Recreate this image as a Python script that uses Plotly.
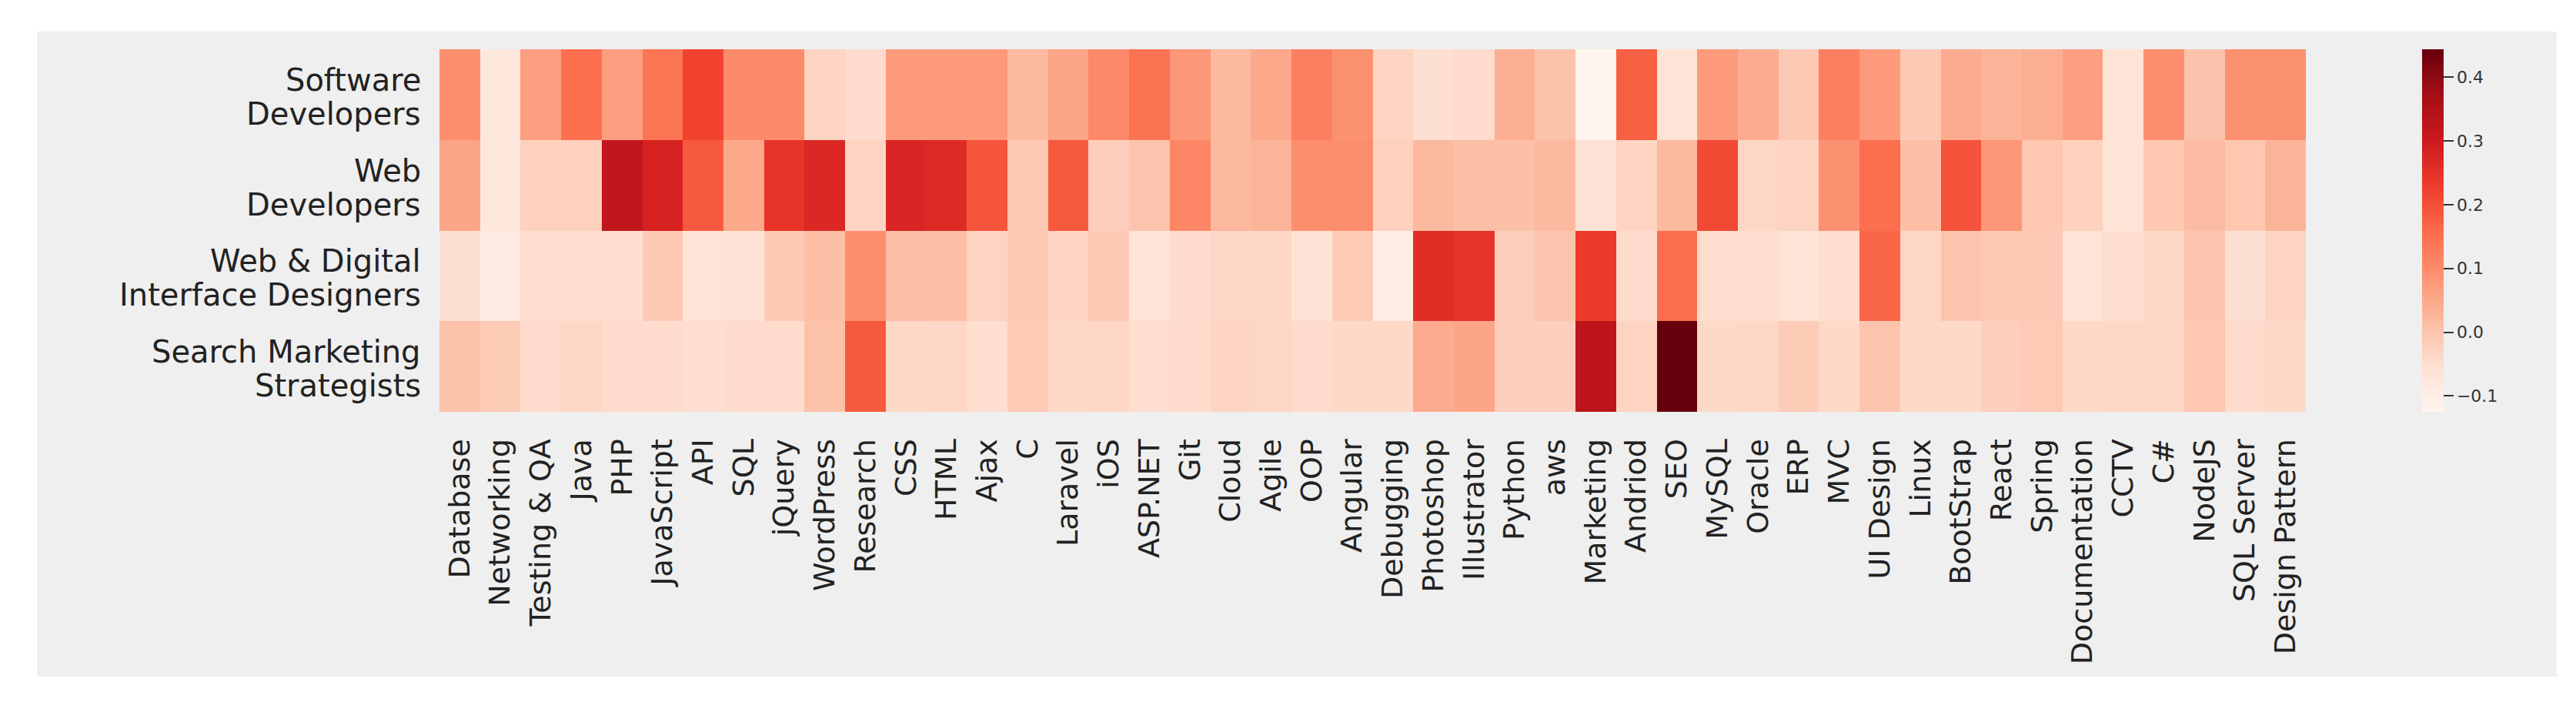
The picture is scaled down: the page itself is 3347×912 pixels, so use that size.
import plotly.graph_objects as go

skills = ["Database", "Networking", "Testing & QA", "Java", "PHP", "JavaScript", "API", "SQL",
          "jQuery", "WordPress", "Research", "CSS", "HTML", "Ajax", "C", "Laravel", "iOS",
          "ASP.NET", "Git", "Cloud", "Agile", "OOP", "Angular", "Debugging", "Photoshop",
          "Illustrator", "Python", "aws", "Marketing", "Andriod", "SEO", "MySQL", "Oracle",
          "ERP", "MVC", "UI Design", "Linux", "BootStrap", "React", "Spring", "Documentation",
          "CCTV", "C#", "NodeJS", "SQL Server", "Design Pattern"]

roles = ["Software Developers", "Web Developers",
         "Web & Digital Interface Designers", "Search Marketing Strategists"]
role_label_lines = [["Software", "Developers"], ["Web", "Developers"],
                    ["Web & Digital", "Interface Designers"], ["Search Marketing", "Strategists"]]

software_developers = [0.095, -0.08, 0.065, 0.15, 0.065, 0.14, 0.22, 0.10, 0.10, -0.03, -0.045, 0.075,
                       0.075, 0.075, 0.02, 0.055, 0.105, 0.145, 0.08, 0.02, 0.05, 0.12, 0.09, -0.03,
                       -0.055, -0.045, 0.04, 0.005, -0.12, 0.175, -0.065, 0.075, 0.045, -0.01, 0.12,
                       0.075, -0.01, 0.045, 0.03, 0.04, 0.065, -0.065, 0.095, 0.003, 0.09, 0.09]
web_developers = [0.055, -0.08, -0.025, -0.025, 0.32, 0.28, 0.185, 0.05, 0.245, 0.27, -0.03, 0.275,
                  0.265, 0.19, -0.01, 0.185, -0.02, 0.0, 0.11, 0.02, 0.03, 0.095, 0.095, -0.025,
                  0.02, 0.01, 0.008, 0.02, -0.06, -0.03, 0.02, 0.21, -0.035, -0.03, 0.09,
                  0.15, 0.01, 0.195, 0.08, -0.005, -0.025, -0.065, -0.005, 0.015, -0.005, 0.03]
interface_designers = [-0.055, -0.09, -0.05, -0.05, -0.05, -0.01, -0.065, -0.06, -0.01, 0.01, 0.095, 0.01,
                       0.01, -0.03, -0.01, -0.03, -0.01, -0.065, -0.045, -0.035, -0.035, -0.06, -0.012, -0.095,
                       0.26, 0.245, -0.02, 0.0, 0.235, -0.045, 0.15, -0.05, -0.05, -0.065, -0.05,
                       0.165, -0.035, 0.0, -0.01, -0.01, -0.065, -0.05, -0.04, 0.0, -0.055, -0.03]
search_marketing = [0.005, -0.015, -0.045, -0.035, -0.045, -0.045, -0.05, -0.045, -0.045, 0.005, 0.185, -0.04,
                    -0.035, -0.05, -0.012, -0.04, -0.035, -0.05, -0.045, -0.03, -0.035, -0.045, -0.04, -0.04,
                    0.045, 0.055, -0.02, -0.02, 0.33, -0.03, 0.444, -0.04, -0.035, -0.015, -0.04,
                    0.0, -0.04, -0.04, -0.02, -0.012, -0.04, -0.035, -0.035, -0.005, -0.045, -0.04]

cbar_ticks = [-0.1, 0.0, 0.1, 0.2, 0.3, 0.4]

reds = ["#fff5f0", "#fee0d2", "#fcbba1", "#fc9272", "#fb6a4a",
        "#ef3b2c", "#cb181d", "#a50f15", "#67000d"]
colorscale = [[i / (len(reds) - 1), c] for i, c in enumerate(reds)]

z = [software_developers, web_developers, interface_designers, search_marketing]

W, H = 3347, 912
L, R, T, B = 563, 359, 56, 385
pw, ph = W - L - R, H - T - B
BG = "#efefef"
FONT = "DejaVu Sans"
TXT = "#222222"

fig = go.Figure(go.Heatmap(
    z=z, x=skills, y=roles,
    colorscale=colorscale, zmin=-0.125, zmax=0.444,
    colorbar=dict(
        x=(3139 - L) / pw, xanchor="left", xref="paper",
        y=0.5, yanchor="middle", len=ph, lenmode="pixels",
        thickness=28, outlinewidth=0, xpad=0, ypad=0,
        tickvals=cbar_ticks, tickformat=".1f",
        ticks="outside", ticklen=13, tickwidth=2, tickcolor="#333333",
        tickfont=dict(family=FONT, size=22, color="#333333"),
    ),
    hoverongaps=False,
))

fig.add_shape(type="rect", xref="paper", yref="paper",
              x0=(40 - L) / pw, x1=(3314 - L) / pw,
              y0=(T + ph - 871) / ph, y1=(T + ph - 33) / ph,
              fillcolor=BG, line=dict(width=0), layer="below")

for role, lines in zip(roles, role_label_lines):
    for line, shift in zip(lines, [19, -25]):
        fig.add_annotation(x=0, xref="paper", y=role, yref="y", text=line,
                           xanchor="right", yanchor="middle", xshift=-22, yshift=shift,
                           showarrow=False, font=dict(family=FONT, size=40, color=TXT))

fig.update_layout(
    width=W, height=H,
    margin=dict(l=L, r=R, t=T, b=B, pad=0),
    paper_bgcolor="white", plot_bgcolor=BG,
    font=dict(family=FONT, color=TXT),
    xaxis=dict(type="category", tickangle=-90, automargin=False, showgrid=False, zeroline=False,
               ticks="outside", ticklen=19, tickcolor="rgba(0,0,0,0)",
               tickfont=dict(family=FONT, size=38, color=TXT)),
    yaxis=dict(type="category", autorange="reversed", automargin=False, showgrid=False, zeroline=False,
               showticklabels=False),
)

fig.write_html("out.html")
